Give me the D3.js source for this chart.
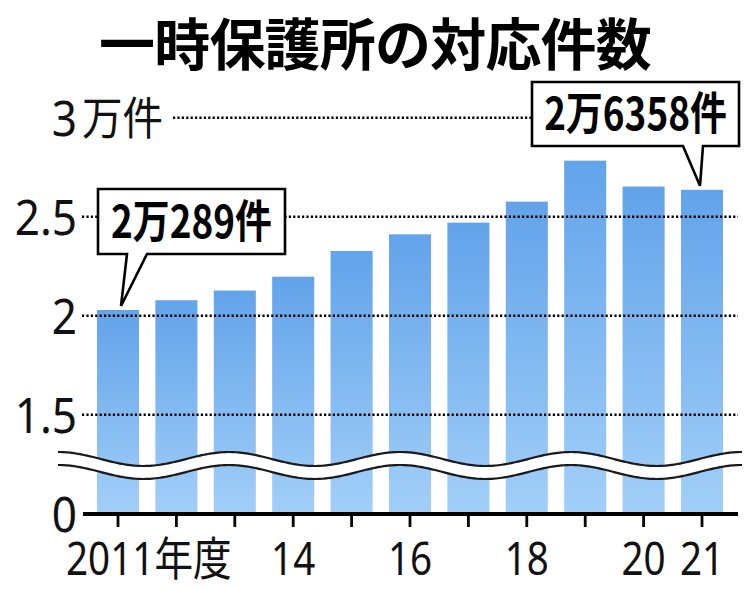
<!DOCTYPE html>
<html><head><meta charset="utf-8">
<script src="https://cdn.jsdelivr.net/npm/d3@7"></script>
<style>body{margin:0;background:#fff}svg{display:block}</style>
</head><body>
<svg id="c" width="750" height="589"></svg>
<script>
// ---- data ----
const years = ["2011","2012","2013","2014","2015","2016","2017","2018","2019","2020","2021"];
const counts = [20289, 20780, 21270, 21970, 23270, 24110, 24700, 25760, 27830, 26520, 26358];
const xTickLabels = ["2011年度","","","14","","16","","18","","20","21"];
const yTickValues = [0, 15000, 20000, 25000, 30000];
const yTickLabels = ["0", "1.5", "2", "2.5", "3"];
const yUnit = "万件";
const titleText = "一時保護所の対応件数";
const calloutYears = ["2011", "2021"];
const calloutTexts = ["2万289件", "2万6358件"];

// ---- layout ----
const W = 750, H = 589;
const svg = d3.select("#c");
const font = "'Noto Sans CJK JP','Noto Sans',sans-serif";
const labelFont = "'Noto Sans','Noto Sans CJK JP',sans-serif";
const baseY = 514;

const x = d3.scaleBand().domain(years).range([88.8, 731.2]).paddingInner(0.28).paddingOuter(0.14);
const y = d3.scaleLinear().domain([0, 15000, 30000]).range([baseY, 414.7, 117.7]);

const defs = svg.append("defs");
const grad = defs.append("linearGradient").attr("id", "barg")
  .attr("x1", 0).attr("y1", 0).attr("x2", 0).attr("y2", 1);
grad.append("stop").attr("offset", "0%").attr("stop-color", "#62a3ea");
grad.append("stop").attr("offset", "100%").attr("stop-color", "#a2cff8");

// title
svg.append("text").attr("x", W / 2).attr("y", 40)
  .attr("text-anchor", "middle").attr("dominant-baseline", "central")
  .attr("font-family", font).attr("font-weight", 700).attr("font-size", 56)
  .attr("letter-spacing", -0.8)
  .attr("fill", "#000").text(titleText);

// bars
const data = years.map((yr, i) => ({ year: yr, value: counts[i] }));
svg.append("g").selectAll("rect").data(data).join("rect")
  .attr("x", d => x(d.year)).attr("width", x.bandwidth())
  .attr("y", d => y(d.value)).attr("height", d => baseY - y(d.value))
  .attr("fill", "url(#barg)");

// gridlines (dotted)
const grid = svg.append("g");
yTickValues.filter(v => v > 0).forEach(v => {
  grid.append("line")
    .attr("x1", v === 30000 ? 173 : 82).attr("x2", 738)
    .attr("y1", y(v)).attr("y2", y(v))
    .attr("stroke", "#000").attr("stroke-width", 2.4)
    .attr("stroke-dasharray", "2.2,2.2");
});

// y axis labels
const sy = 0.9;
const yAxis = d3.axisLeft(y).tickValues(yTickValues)
  .tickFormat((d, i) => yTickLabels[i]).tickSize(0).tickPadding(0);
const yg = svg.append("g").attr("transform", "translate(77,0)").call(yAxis);
yg.select(".domain").remove();
yg.selectAll("text")
  .attr("font-family", labelFont).attr("font-size", 49).attr("font-weight", 400)
  .attr("fill", "#111").attr("x", 0).attr("dy", "0.36em")
  .attr("transform", `scale(${sy},1)`);
svg.append("text")
  .attr("transform", `translate(82,${y(30000)}) scale(${sy},1)`)
  .attr("dy", "0.38em").attr("font-family", font).attr("font-size", 45)
  .attr("fill", "#111").text(yUnit);

// wave break
const waveX0 = 58, waveX1 = 742, period = 171, amp = 7, mid = 459, gap = 13;
const xs = d3.range(waveX0, waveX1 + 0.01, 2);
const upper = xs.map(px => [px, mid - amp * Math.cos(2 * Math.PI * (px - waveX0) / period)]);
const lower = upper.map(p => [p[0], p[1] + gap]);
const line = d3.line();
svg.append("path")
  .attr("d", line(upper.concat(lower.slice().reverse())) + "Z")
  .attr("fill", "#fff");
svg.append("path").attr("d", line(upper)).attr("fill", "none")
  .attr("stroke", "#1a1a1a").attr("stroke-width", 2.2);
svg.append("path").attr("d", line(lower)).attr("fill", "none")
  .attr("stroke", "#1a1a1a").attr("stroke-width", 2.2);

// x axis
const sx = 0.84;
const xAxis = d3.axisBottom(x).tickFormat((d, i) => xTickLabels[i])
  .tickSize(13).tickSizeOuter(0);
const xg = svg.append("g").attr("transform", `translate(0,${baseY})`).call(xAxis);
xg.select(".domain").remove();
xg.selectAll(".tick line").attr("stroke", "#000").attr("stroke-width", 2.8);
xg.selectAll("text")
  .attr("font-family", labelFont).attr("font-size", 46).attr("font-weight", 400)
  .attr("fill", "#111").attr("y", 61).attr("dy", 0)
  .attr("transform", `scale(${sx},1)`)
  .each(function (d, i) {
    if (i === 0) d3.select(this).attr("text-anchor", "start").attr("x", -52 / sx);
  });
svg.append("line").attr("x1", 83).attr("x2", 738)
  .attr("y1", baseY).attr("y2", baseY)
  .attr("stroke", "#000").attr("stroke-width", 4);

// callouts
const boxes = [
  { x0: 98, x1: 285, y0: 189, y1: 254, tl: 127, tr: 147 },
  { x0: 532, x1: 739, y0: 82, y1: 146, tl: 683, tr: 703 }
];
calloutYears.forEach((yr, i) => {
  const b = boxes[i];
  const v = counts[years.indexOf(yr)];
  const tipX = x(yr) + x.bandwidth() / 2 + (i === 0 ? 3 : -2);
  const tipY = y(v) - 4;
  const p = d3.path();
  p.moveTo(b.x0, b.y0); p.lineTo(b.x1, b.y0); p.lineTo(b.x1, b.y1);
  p.lineTo(b.tr, b.y1); p.lineTo(tipX, tipY); p.lineTo(b.tl, b.y1);
  p.lineTo(b.x0, b.y1); p.closePath();
  svg.append("path").attr("d", p.toString())
    .attr("fill", "#fff").attr("stroke", "#000").attr("stroke-width", 2.6)
    .attr("stroke-linejoin", "miter");
  svg.append("text")
    .attr("transform", `translate(${(b.x0 + b.x1) / 2},${(b.y0 + b.y1) / 2}) scale(0.82,1)`)
    .attr("text-anchor", "middle").attr("dy", "0.36em")
    .attr("font-family", font).attr("font-weight", 700).attr("font-size", 45)
    .attr("fill", "#000").text(calloutTexts[i]);
});
</script>
</body></html>
